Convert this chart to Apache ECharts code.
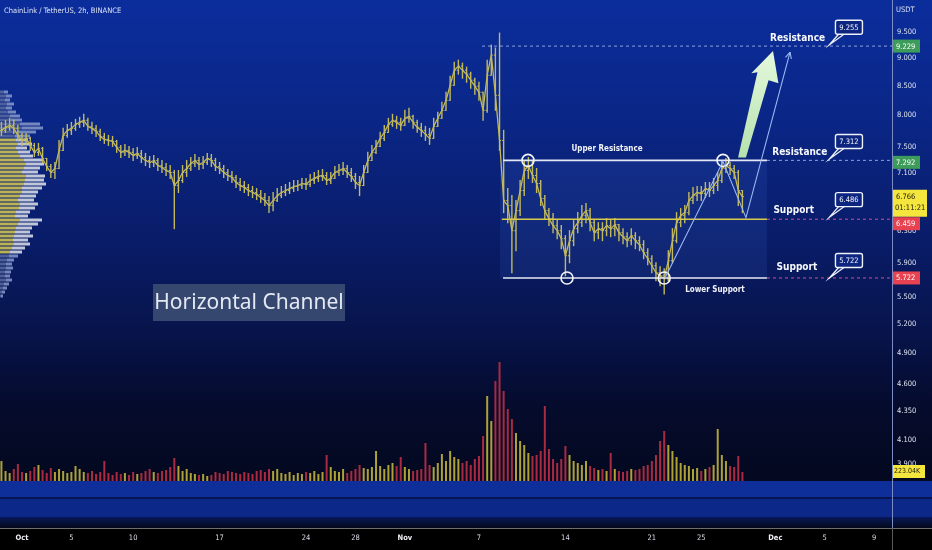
<!DOCTYPE html>
<html><head><meta charset="utf-8">
<script src="https://cdn.jsdelivr.net/npm/echarts@6.0.0/dist/echarts.min.js"></script>
<style>html,body{margin:0;padding:0;background:#000;}#c{width:932px;height:550px;}</style>
</head><body><div id="c"></div>
<script>
// ---------- DATA ----------
const startDay = -5/3;      // first 8h bar: Sep 29 08:00 (days from Oct 1)
const stepDay = 1/3;        // 8-hour bars
const closes = [
7.757,7.805,7.837,7.789,7.677,7.598,7.630,7.520,7.413,7.474,
7.321,7.200,7.112,7.171,7.443,7.677,7.757,7.789,7.853,7.886,
7.919,7.821,7.789,7.741,7.661,7.614,7.598,7.582,7.489,7.413,
7.443,7.413,7.366,7.397,7.336,7.290,7.260,7.290,7.215,7.185,
7.141,7.112,6.923,6.995,7.112,7.171,7.245,7.290,7.230,7.260,
7.321,7.290,7.200,7.171,7.112,7.068,7.039,6.967,6.923,6.895,
6.852,6.824,6.795,6.753,6.712,6.643,6.712,6.781,6.824,6.852,
6.880,6.909,6.923,6.952,6.938,6.995,7.025,7.054,7.068,6.995,
7.025,7.112,7.141,7.171,7.112,7.054,6.967,6.923,7.112,7.290,
7.413,7.505,7.630,7.725,7.853,7.919,7.886,7.837,7.952,7.985,
7.886,7.805,7.757,7.693,7.630,7.821,7.952,8.084,8.253,8.513,
8.781,8.855,8.781,8.710,8.602,8.496,8.391,8.084,8.691,9.059,
8.339,7.598,6.712,6.643,6.308,6.574,6.852,7.141,7.215,7.068,
6.952,6.740,6.574,6.467,6.374,6.308,6.205,5.990,6.179,6.334,
6.413,6.507,6.574,6.413,6.282,6.334,6.308,6.374,6.334,6.387,
6.282,6.230,6.179,6.243,6.179,6.128,6.028,5.953,5.868,5.784,
5.748,5.713,5.929,6.179,6.413,6.507,6.547,6.712,6.781,6.824,
6.810,6.880,6.852,6.923,6.995,7.171,7.215,7.171,7.112,6.852,6.766];
const highs = [
7.886,7.919,7.952,7.919,7.837,7.709,7.709,7.646,7.551,7.551,
7.489,7.321,7.230,7.260,7.598,7.789,7.853,7.886,7.935,7.968,
8.018,7.952,7.886,7.837,7.773,7.709,7.677,7.661,7.598,7.520,
7.536,7.505,7.474,7.489,7.443,7.397,7.351,7.366,7.321,7.290,
7.245,7.215,7.141,7.141,7.215,7.290,7.336,7.382,7.336,7.351,
7.397,7.382,7.321,7.260,7.215,7.156,7.126,7.068,7.025,6.981,
6.938,6.909,6.880,6.852,6.810,6.767,6.824,6.880,6.909,6.938,
6.967,6.995,6.995,7.025,7.025,7.083,7.112,7.141,7.156,7.112,
7.112,7.200,7.230,7.260,7.215,7.171,7.097,7.054,7.215,7.413,
7.520,7.598,7.725,7.837,7.952,8.018,7.985,7.952,8.084,8.118,
8.001,7.919,7.870,7.821,7.789,7.952,8.051,8.219,8.391,8.673,
8.928,8.965,8.910,8.837,8.745,8.638,8.567,8.339,8.965,9.248,
9.193,9.480,7.757,6.880,6.781,6.712,6.995,7.290,7.336,7.290,
7.171,6.995,6.781,6.602,6.534,6.440,6.374,6.243,6.308,6.440,
6.547,6.643,6.670,6.602,6.440,6.413,6.413,6.467,6.440,6.467,
6.374,6.334,6.282,6.334,6.282,6.230,6.179,6.078,5.990,5.904,
5.856,5.832,6.053,6.334,6.547,6.602,6.643,6.824,6.895,6.909,
6.909,6.967,6.967,7.025,7.112,7.290,7.321,7.260,7.215,7.141,6.852];
const lows = [
7.677,7.725,7.757,7.709,7.598,7.520,7.536,7.443,7.351,7.366,
7.260,7.141,7.039,7.025,7.215,7.474,7.646,7.693,7.757,7.805,
7.821,7.757,7.709,7.661,7.598,7.551,7.520,7.505,7.413,7.336,
7.366,7.336,7.290,7.321,7.260,7.215,7.185,7.200,7.141,7.112,
7.068,7.025,6.334,6.824,6.967,7.054,7.141,7.200,7.156,7.171,
7.230,7.200,7.141,7.097,7.039,6.995,6.967,6.895,6.852,6.824,
6.781,6.753,6.726,6.684,6.643,6.547,6.574,6.698,6.753,6.781,
6.810,6.838,6.852,6.880,6.866,6.909,6.952,6.981,6.995,6.938,
6.952,7.025,7.068,7.083,7.039,6.981,6.880,6.781,6.967,7.141,
7.290,7.397,7.505,7.598,7.725,7.821,7.789,7.757,7.853,7.886,
7.789,7.725,7.661,7.598,7.536,7.677,7.837,7.985,8.134,8.339,
8.602,8.710,8.638,8.567,8.461,8.357,8.253,7.919,8.051,8.745,
8.084,7.443,6.547,6.413,5.784,6.053,6.507,6.781,7.025,6.967,
6.824,6.643,6.467,6.374,6.282,6.205,6.078,5.748,5.904,6.116,
6.282,6.361,6.413,6.308,6.179,6.205,6.179,6.243,6.230,6.243,
6.179,6.141,6.103,6.128,6.078,6.053,5.953,5.880,5.784,5.689,
5.630,5.537,5.689,5.904,6.154,6.361,6.413,6.520,6.670,6.712,
6.712,6.753,6.767,6.810,6.852,6.967,7.112,7.083,7.025,6.643,6.547];
const volumesK = [
500,250,200,300,425,225,200,250,350,400,
275,200,325,225,300,250,200,225,375,300,
225,200,250,175,225,500,200,150,225,175,
200,150,225,175,200,250,300,225,200,250,
275,350,575,375,250,300,200,175,150,175,
125,150,225,200,175,250,225,200,175,225,
200,175,250,275,225,300,250,300,200,175,
225,150,200,175,225,200,250,175,225,650,
350,250,225,300,200,250,300,400,325,300,
350,750,375,300,400,450,375,600,350,300,
250,275,300,950,400,350,450,675,500,750,
600,550,450,500,400,550,625,1125,2125,1500,
2500,2975,2250,1800,1550,1200,1000,900,700,625,
650,750,1875,800,550,450,550,875,650,500,
450,400,500,375,325,275,300,250,700,300,
250,225,250,300,275,300,375,400,500,650,
1000,1250,900,750,600,450,400,375,300,325,
250,300,350,400,1300,650,500,375,350,625,223.04];
const priceTicks = [9.5,9,8.5,8,7.5,7.1,6.3,5.9,5.5,5.2,4.9,4.6,4.35,4.1,3.9];
const dateTickDays = [0,4,9,16,23,27,31,37,44,51,55,61,65,69];
const dateTickLabels = ['Oct','5','10','17','24','28','Nov','7','14','21','25','Dec','5','9'];
const profileUp = [4,6,5,7,6,8,10,11,20,22,18,15,16,18,16,18,20,24,26,24,22,26,25,24,22,22,20,18,20,19,16,15,20,18,16,15,14,13,14,12,10,9,7,6,6,5,5,6,4,3,2,1];
const profileDown = [4,6,5,7,6,8,10,11,20,21,18,15,12,14,11,12,13,18,18,16,16,19,19,22,20,16,16,16,18,16,14,13,22,20,16,15,19,15,16,13,12,9,7,6,7,6,5,6,5,4,3,2];
const valueAreaRows = [12, 40];
const upperResistance = 7.292, midSupport = 6.459, lowerSupport = 5.722, swingHigh = 9.229;
const channelDays = [38.95, 60.32];
const touchPoints = [[40.97,7.292],[44.13,5.722],[52.0,5.722],[56.76,7.292]];
const projectionPath = [[52.06,5.722],[56.76,7.275],[58.62,6.48],[62.19,9.115]];
const bigArrow = [[60.81,9.134],[61.25,8.549],[60.45,8.602],[58.62,7.336],[57.98,7.336],[59.55,8.745],[59.05,8.727]];
const callouts = [{text:'9.255',p:9.255,label:'Resistance',lp:9.382,ld:60.57},
                  {text:'7.312',p:7.312,label:'Resistance',lp:7.413,ld:60.75},
                  {text:'6.486',p:6.486,label:'Support',lp:6.574,ld:60.84},
                  {text:'5.722',p:5.722,label:'Support',lp:5.844,ld:61.10}];
const calloutDay = 65.38;
const lastPrice = 6.766, countdown = '01:11:21', lastVolumeLabel = '223.04K';

// ---------- CHART ----------
const LN = Math.log;
const COND = '"DejaVu Sans Condensed","DejaVu Sans",sans-serif';
const X_MIN = -1.781, X_MAX = 70.445;
const Y_MIN = LN(3.7648), Y_MAX = LN(10.149);
const BARC = '#c2b95c', VOL_UP = '#aea236', VOL_DN = '#aa2a42';

const barData = closes.map((c,i)=>{
  const o = i===0 ? c : closes[i-1];
  const h = Math.max(highs[i],o,c), l = Math.min(lows[i],o,c);
  return [startDay+i*stepDay, LN(o), LN(c), LN(l), LN(h)];
});
const closeLine = closes.map((c,i)=>[startDay+i*stepDay, LN(c)]);
const volData = volumesK.map((v,i)=>{
  const o = i===0 ? closes[0] : closes[i-1];
  return {value:[startDay+i*stepDay, v], itemStyle:{color: closes[i]>=o ? VOL_UP : VOL_DN}};
});
const inVA = i => i>=valueAreaRows[0] && i<=valueAreaRows[1];
const profUpData = profileUp.map((v,i)=>({value:v,itemStyle:{color: inVA(i)?'#cfc253':'#56689f'}}));
const profDnData = profileDown.map((v,i)=>({value:v,itemStyle:{color: inVA(i)?'#d5d9e6':'#8193c6'}}));

function txt(text,x,y,font,fill,align,valign){
  return {type:'text',style:{text,x,y,font,fill,align:align||'left',textAlign:align||'left',verticalAlign:valign||'middle',textVerticalAlign:valign||'middle'}};
}

function renderOHLC(params, api){
  const x = api.value(0);
  const o = api.coord([x, api.value(1)]), c = api.coord([x, api.value(2)]);
  const l = api.coord([x, api.value(3)]), h = api.coord([x, api.value(4)]);
  return {type:'group', children:[
    {type:'line', shape:{x1:o[0], y1:h[1]-0.5, x2:o[0], y2:l[1]+0.5}, style:{stroke:BARC, lineWidth:1.4}},
    {type:'line', shape:{x1:o[0]-1.6, y1:o[1], x2:o[0], y2:o[1]}, style:{stroke:BARC,lineWidth:1}},
    {type:'line', shape:{x1:o[0], y1:c[1], x2:o[0]+1.6, y2:c[1]}, style:{stroke:BARC,lineWidth:1}}
  ]};
}

function renderBox(params, api){
  const a = api.coord([channelDays[0]-0.25, LN(upperResistance)]);
  const b = api.coord([channelDays[1], LN(lowerSupport)]);
  return {type:'rect', shape:{x:a[0],y:a[1],width:b[0]-a[0],height:b[1]-a[1]}, style:{fill:'rgba(80,120,230,0.13)'}};
}

function renderAnno(params, api){
  const c = (d,p)=>api.coord([d, LN(p)]);
  const kids = [];
  const axisX = c(X_MAX, 9)[0];
  const hline = (d1,d2,p,stroke,w,dash)=>{const a=c(d1,p),b=c(d2,p);
    kids.push({type:'line',shape:{x1:a[0],y1:a[1],x2:b[0],y2:b[1]},style:{stroke,lineWidth:w,lineDash:dash||null}});};
  hline(37.25, X_MAX, swingHigh, '#8fa3dd', 1, [3,3]);
  hline(channelDays[1], X_MAX, upperResistance, '#8fa3dd', 1, [3,3]);
  hline(channelDays[1], X_MAX, midSupport, '#c8559c', 1, [3,3]);
  hline(channelDays[1], X_MAX, lowerSupport, '#c8559c', 1, [3,3]);
  hline(channelDays[0], channelDays[1], upperResistance, '#e4e8f4', 1.6);
  hline(channelDays[0]-0.1, channelDays[1], midSupport, '#d9cb4a', 1.6);
  hline(channelDays[0], channelDays[1], lowerSupport, '#e4e8f4', 1.6);
  touchPoints.forEach(t=>{const p=c(t[0],t[1]);
    kids.push({type:'circle',shape:{cx:p[0],cy:p[1],r:6},style:{fill:null,stroke:'#f2f4fa',lineWidth:1.6}});});
  const pts = projectionPath.map(t=>c(t[0],t[1]));
  kids.push({type:'polyline',shape:{points:pts},style:{stroke:'#9ab8f4',lineWidth:1.1,fill:null}});
  const tip = pts[pts.length-1], prev = pts[pts.length-2];
  const ang = Math.atan2(tip[1]-prev[1], tip[0]-prev[0]);
  [0.45,-0.45].forEach(da=>{const a=ang+Math.PI+da;
    kids.push({type:'line',shape:{x1:tip[0],y1:tip[1],x2:tip[0]+7*Math.cos(a),y2:tip[1]+7*Math.sin(a)},style:{stroke:'#9ab8f4',lineWidth:1.1}});});
  kids.push({type:'polygon',shape:{points:bigArrow.map(t=>c(t[0],t[1]))},
    style:{fill:new echarts.graphic.LinearGradient(0,0,0,1,[{offset:0,color:'#e4f8dc'},{offset:1,color:'#b6e2ae'}])}});
  const pu = c(47.37, 7.459); kids.push(txt('Upper Resistance', pu[0], pu[1], 'bold 8px '+COND, '#f0f2f8','center'));
  const pl = c(56.11, 5.584); kids.push(txt('Lower Support', pl[0], pl[1], 'bold 8px '+COND, '#f0f2f8','center'));
  callouts.forEach(o=>{
    const a = c(calloutDay, o.p);
    const bx = a[0]+6, by = a[1]-24.5, bw = 27, bh = 14;
    kids.push({type:'polygon',shape:{points:[[bx+4,by+bh-1],[a[0],a[1]],[bx+10,by+bh-1]]},style:{fill:'#0c2581',stroke:'#eef1f8',lineWidth:1.3}});
    kids.push({type:'rect',shape:{x:bx,y:by,width:bw,height:bh,r:2},style:{fill:'#0c2581',stroke:'#eef1f8',lineWidth:1.4}});
    kids.push(txt(o.text, bx+bw/2, by+bh/2+0.5, '7.5px '+COND, '#f4f6fb','center'));
    const lp = c(o.ld, o.lp);
    kids.push(txt(o.label, lp[0], lp[1], 'bold 10px '+COND, '#f6f8fc','left'));
  });
  const tag = (p, bg, shift, label)=>{const y=c(X_MAX,p)[1]+shift;
    kids.push({type:'rect',shape:{x:axisX+1,y:y-6.5,width:27,height:13},style:{fill:bg}});
    kids.push(txt(label, axisX+4, y+0.5, '7.5px '+COND, '#ffffff','left'));};
  tag(swingHigh,'#3e9c5b',0,'9.229');
  tag(upperResistance,'#3e9c5b',2,'7.292');
  const ly = c(X_MAX,lastPrice)[1];
  kids.push({type:'rect',shape:{x:axisX,y:ly-7,width:35,height:27},style:{fill:'#f4e63c'}});
  kids.push(txt(lastPrice.toFixed(3), axisX+4, ly, '7.5px '+COND, '#1a1a10','left'));
  kids.push(txt(countdown, axisX+3, ly+11, '7.5px '+COND, '#1a1a10','left'));
  tag(midSupport,'#e8414f',4.5,'6.459');
  tag(lowerSupport,'#e8414f',0,'5.722');
  return {type:'group',children:kids};
}

function renderVolTag(params, api){
  const p = api.coord([X_MAX, volumesK[volumesK.length-1]]);
  return {type:'group',children:[
    {type:'rect',shape:{x:p[0],y:p[1]-7,width:33,height:13},style:{fill:'#f4e63c'}},
    txt(lastVolumeLabel, p[0]+2, p[1]-0.5, '7px '+COND, '#1a1a10','left')]};
}

const chart = echarts.init(document.getElementById('c'), null, {renderer:'canvas', width:932, height:550});
chart.setOption({
  animation:false,
  backgroundColor:'#000',
  graphic:[
    {type:'rect',z:-10,shape:{x:0,y:0,width:932,height:481},style:{fill:new echarts.graphic.LinearGradient(0,0,0,1,[
      {offset:0,color:'#0b2d9c'},{offset:0.25,color:'#0a2686'},{offset:0.5,color:'#091c68'},
      {offset:0.7,color:'#071349'},{offset:0.85,color:'#050b2b'},{offset:1,color:'#040920'}])}},
    {type:'rect',z:-10,shape:{x:0,y:481,width:932,height:16},style:{fill:'#0e2e99'}},
    {type:'rect',z:-10,shape:{x:0,y:497,width:932,height:2},style:{fill:'#071652'}},
    {type:'rect',z:-10,shape:{x:0,y:499,width:932,height:18},style:{fill:'#0c2889'}},
    {type:'rect',z:-10,shape:{x:0,y:517,width:932,height:11},style:{fill:new echarts.graphic.LinearGradient(0,0,0,1,[{offset:0,color:'#08195a'},{offset:1,color:'#030818'}])}},
    {type:'rect',z:-10,shape:{x:0,y:528,width:932,height:22},style:{fill:'#000000'}},
    {type:'line',z:20,shape:{x1:0,y1:528.5,x2:932,y2:528.5},style:{stroke:'#6e6e6e',lineWidth:1}},
    {type:'line',z:20,shape:{x1:892.5,y1:0,x2:892.5,y2:528},style:{stroke:'#7d8cc2',lineWidth:1}},
    {type:'line',z:20,shape:{x1:892.5,y1:528,x2:892.5,y2:550},style:{stroke:'#5a5a5a',lineWidth:1}},
    {type:'rect',z:20,shape:{x:153,y:284,width:192,height:37},style:{fill:'#35466f'}},
    {type:'text',z:21,style:{text:'Horizontal Channel',x:249,y:303,font:'21px "Noto Sans"',fill:'#e3e8f2',align:'center',textAlign:'center',verticalAlign:'middle',textVerticalAlign:'middle'}},
    {type:'text',z:21,style:{text:'ChainLink / TetherUS, 2h, BINANCE',x:4,y:11,font:'7.5px '+COND,fill:'#dbe2f4',verticalAlign:'middle',textVerticalAlign:'middle'}},
    {type:'text',z:21,style:{text:'USDT',x:896,y:10.5,font:'7.5px '+COND,fill:'#dbe2f4',verticalAlign:'middle',textVerticalAlign:'middle'}}
  ],
  grid:[
    {left:0,right:40,top:0,height:481},
    {left:0,right:40,top:350,height:131},
    {left:0,top:90,width:100,height:208}
  ],
  xAxis:[
    {type:'value',gridIndex:0,min:X_MIN,max:X_MAX,position:'bottom',offset:45,
     axisLine:{show:false},axisTick:{show:false},splitLine:{show:false},
     axisLabel:{customValues:dateTickDays,margin:8,color:'#d8dce8',fontSize:7.5,fontFamily:COND,
       formatter:v=>{const i=dateTickDays.findIndex(d=>Math.abs(d-v)<1e-6);const s=dateTickLabels[i]||'';return isNaN(+s)?'{b|'+s+'}':s;},
       rich:{b:{fontWeight:'bold',fontSize:7.5,fontFamily:COND,color:'#eef0f6'}}}},
    {type:'value',gridIndex:1,min:X_MIN,max:X_MAX,show:false},
    {type:'value',gridIndex:2,min:0,max:100,show:false}
  ],
  yAxis:[
    {type:'value',gridIndex:0,position:'right',min:Y_MIN,max:Y_MAX,
     axisLine:{show:false},axisTick:{show:false},splitLine:{show:false},
     axisLabel:{customValues:priceTicks.map(LN),formatter:v=>Math.exp(v).toFixed(3),margin:5,color:'#dde2ee',fontSize:7.5,fontFamily:COND}},
    {type:'value',gridIndex:1,min:0,max:3275,show:false},
    {type:'category',gridIndex:2,inverse:true,data:profileUp.map((v,i)=>i),show:false}
  ],
  series:[
    {type:'bar',xAxisIndex:2,yAxisIndex:2,stack:'prof',barWidth:3,z:1,data:profUpData,silent:true,itemStyle:{opacity:0.9}},
    {type:'bar',xAxisIndex:2,yAxisIndex:2,stack:'prof',barWidth:3,z:1,data:profDnData,silent:true,itemStyle:{opacity:0.9}},
    {type:'custom',xAxisIndex:0,yAxisIndex:0,z:1,data:[[30,2]],renderItem:renderBox,silent:true},
    {type:'bar',xAxisIndex:1,yAxisIndex:1,barWidth:2,z:2,data:volData,silent:true},
    {type:'line',xAxisIndex:0,yAxisIndex:0,z:3,data:closeLine,showSymbol:false,symbol:'none',silent:true,
     lineStyle:{color:BARC,width:1.3}},
    {type:'custom',xAxisIndex:0,yAxisIndex:0,z:3,data:barData,renderItem:renderOHLC,silent:true},
    {type:'custom',xAxisIndex:0,yAxisIndex:0,z:5,data:[[30,2]],renderItem:renderAnno,silent:true},
    {type:'custom',xAxisIndex:1,yAxisIndex:1,z:5,data:[[30,2]],renderItem:renderVolTag,silent:true}
  ]
});
</script></body></html>
